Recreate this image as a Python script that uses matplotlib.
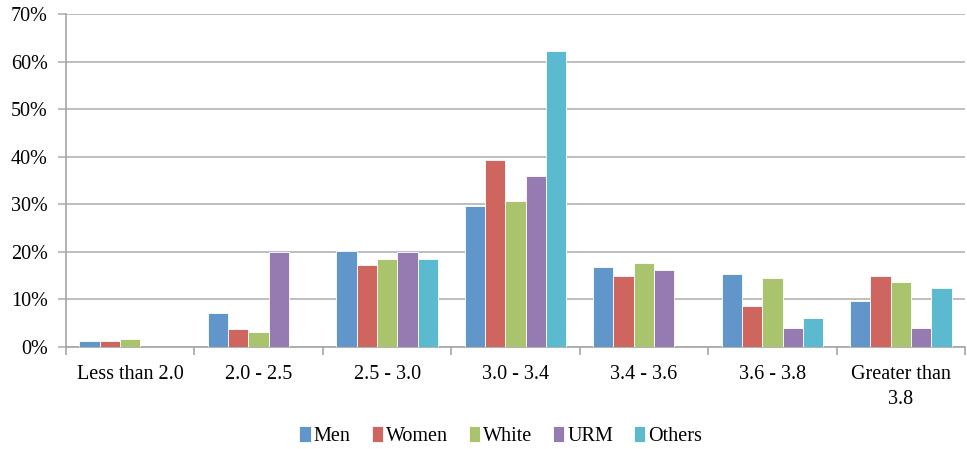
import matplotlib.pyplot as plt
import numpy as np
from matplotlib.ticker import FixedLocator, PercentFormatter

categories = ["Less than 2.0", "2.0 - 2.5", "2.5 - 3.0", "3.0 - 3.4",
              "3.4 - 3.6", "3.6 - 3.8", "Greater than\n3.8"]
series = ["Men", "Women", "White", "URM", "Others"]

men = [1.3, 7.2, 20.2, 29.7, 16.8, 15.4, 9.6]
women = [1.3, 3.8, 17.3, 39.3, 14.9, 8.7, 14.9]
white = [1.6, 3.2, 18.6, 30.7, 17.6, 14.6, 13.6]
urm = [0.0, 19.9, 19.9, 35.9, 16.1, 4.0, 4.0]
others = [0.0, 0.0, 18.6, 62.3, 0.0, 6.2, 12.4]

colors = ["#6096c9", "#ce665f", "#aac36d", "#957bb1", "#5bb9d0"]

plt.rcParams["font.family"] = ["Liberation Serif", "DejaVu Serif"]
plt.rcParams["font.size"] = 14.5

fig = plt.figure(figsize=(9.67, 4.49), dpi=100)
ax = fig.add_axes([66 / 967, 1 - 347 / 449, 899 / 967, 333 / 449])

x = np.arange(len(categories))
width = 0.158
values = [men, women, white, urm, others]
for i, (name, vals, c) in enumerate(zip(series, values, colors)):
    ax.bar(x + (i - 2) * width, vals, width, color=c, label=name,
           edgecolor="white", linewidth=0.6, zorder=3)

ax.set_xlim(-0.5, len(categories) - 0.5)
ax.set_ylim(0, 70)
ax.set_yticks(np.arange(0, 71, 10))
ax.yaxis.set_major_formatter(PercentFormatter(decimals=0))
ax.grid(axis="y", color="#b3b3b3", linewidth=1.2, zorder=0)

ax.set_xticks(x)
ax.set_xticklabels(categories, linespacing=1.4)
ax.xaxis.set_minor_locator(FixedLocator(np.arange(-0.5, len(categories), 1.0)))
ax.tick_params(axis="x", which="major", length=0, pad=13)
ax.tick_params(axis="x", which="minor", length=6, color="#a6a6a6", width=1.2)
ax.tick_params(axis="y", length=6, color="#b3b3b3", width=1.2, pad=7)

for side in ["top", "right"]:
    ax.spines[side].set_visible(False)
for side in ["left", "bottom"]:
    ax.spines[side].set_color("#a6a6a6")
    ax.spines[side].set_linewidth(1.2)

fig.legend(loc="center", bbox_to_anchor=(0.518, 1 - 436 / 449), ncol=5,
           frameon=False, handlelength=0.55, handleheight=0.8,
           handletextpad=0.15, columnspacing=1.05)

fig.savefig("out.png", dpi=100)
